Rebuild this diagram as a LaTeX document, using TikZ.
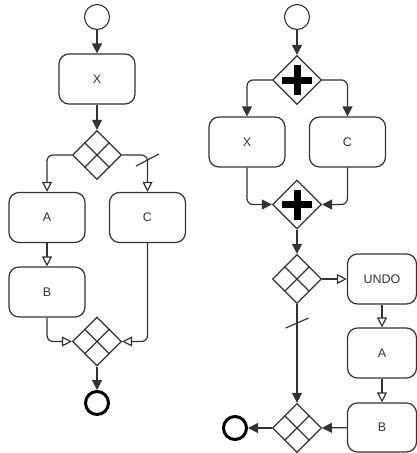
\documentclass[tikz,border=0pt]{standalone}
\usepackage{fontspec}
\setmainfont{Liberation Sans}
\usetikzlibrary{shapes.geometric,arrows.meta,calc}
\definecolor{ink}{gray}{0.2}
\tikzset{
  flow/.style={draw=ink, line width=1.2pt},
  task/.style={draw=ink, line width=1.2pt, rounded corners=10pt, minimum width=76pt,
    minimum height=50pt, inner sep=0pt, font=\fontsize{12.5}{14}\selectfont, text=ink},
  gate/.style={diamond, draw=ink, line width=1.2pt, minimum width=49pt,
    minimum height=49pt, inner sep=0pt, aspect=1},
  startev/.style={circle, draw=ink, line width=1.1pt, minimum size=25pt, inner sep=0pt},
  endev/.style={circle, draw=black, line width=3pt, minimum size=23pt, inner sep=0pt},
  seq/.style={flow, -{Triangle[length=10pt,width=10pt]}, rounded corners=6pt},
  cond/.style={flow, -{Triangle[open,fill=white,length=10pt,width=10pt]}, rounded corners=6pt},
}
% grid of an exclusive gateway: lines joining midpoints of opposite edges
\newcommand\xgrid[1]{%
  \draw[flow] ($(#1.north)!0.5!(#1.west)$) -- ($(#1.south)!0.5!(#1.east)$)
              ($(#1.north)!0.5!(#1.east)$) -- ($(#1.south)!0.5!(#1.west)$);}
% bold cross of a parallel gateway
\newcommand\pplus[1]{%
  \draw[line width=7pt, black] ($(#1)+(-15,0)$) -- ($(#1)+(15,0)$)
                               ($(#1)+(0,-15)$) -- ($(#1)+(0,15)$);}
\begin{document}
\begin{tikzpicture}[x=1pt, y=-1pt]
\useasboundingbox (0,0) rectangle (417,453);

% ---- left process ----
\node[startev] (s1) at (97,17) {};
\node[task] (x1) at (97,79) {X};
\node[gate] (g1) at (97,155) {};
\xgrid{g1}
\node[task] (a1) at (47,217.5) {A};
\node[task] (c1) at (147.5,217.5) {C};
\node[task] (b1) at (47,292) {B};
\node[gate] (g2) at (97,341.5) {};
\xgrid{g2}
\node[endev] (e1) at (97,403) {};

\draw[seq] (s1) -- (x1);
\draw[seq] (x1) -- (g1);
\draw[cond] (g1.west) -| (a1.north);
\draw[cond] (g1.east) -| (c1.north);
\coordinate (d1) at ($(g1.east -| c1.north)+(0,5)$);
\draw[flow] (d1) ++(-11.5,6) -- ++(23,-12);
\draw[cond] (a1) -- (b1);
\draw[cond] (b1.south) |- (g2.west);
\draw[cond] (c1.south) |- (g2.east);
\draw[seq] (g2) -- (e1);

% ---- right process ----
\node[startev] (s2) at (297,17) {};
\node[gate] (p1) at (297,80) {};
\pplus{p1}
\node[task] (x2) at (247,142) {X};
\node[task] (c2) at (347.5,142) {C};
\node[gate] (p2) at (297,204.5) {};
\pplus{p2}
\node[gate] (g3) at (297,279) {};
\xgrid{g3}
\node[task, minimum width=69pt] (u) at (382,279) {UNDO};
\node[task, minimum width=69pt] (a2) at (382,353) {A};
\node[task, minimum width=69pt, minimum height=49pt] (b2) at (382,427.5) {B};
\node[gate] (g4) at (297,428) {};
\xgrid{g4}
\node[endev] (e2) at (235,428) {};

\draw[seq] (s2) -- (p1);
\draw[seq] (p1.west) -| (x2.north);
\draw[seq] (p1.east) -| (c2.north);
\draw[seq] (x2.south) |- (p2.west);
\draw[seq] (c2.south) |- (p2.east);
\draw[seq] (p2) -- (g3);
\draw[cond] (g3) -- (u);
\draw[cond] (u) -- (a2);
\draw[cond] (a2) -- (b2);
\draw[seq] (g3) -- (g4);
\coordinate (d2) at ($(g3.south)+(0,19)$);
\draw[flow] (d2) ++(-11.5,5) -- ++(23,-10);
\draw[seq] (b2) -- (g4);
\draw[seq] (g4) -- (e2);
\end{tikzpicture}
\end{document}
